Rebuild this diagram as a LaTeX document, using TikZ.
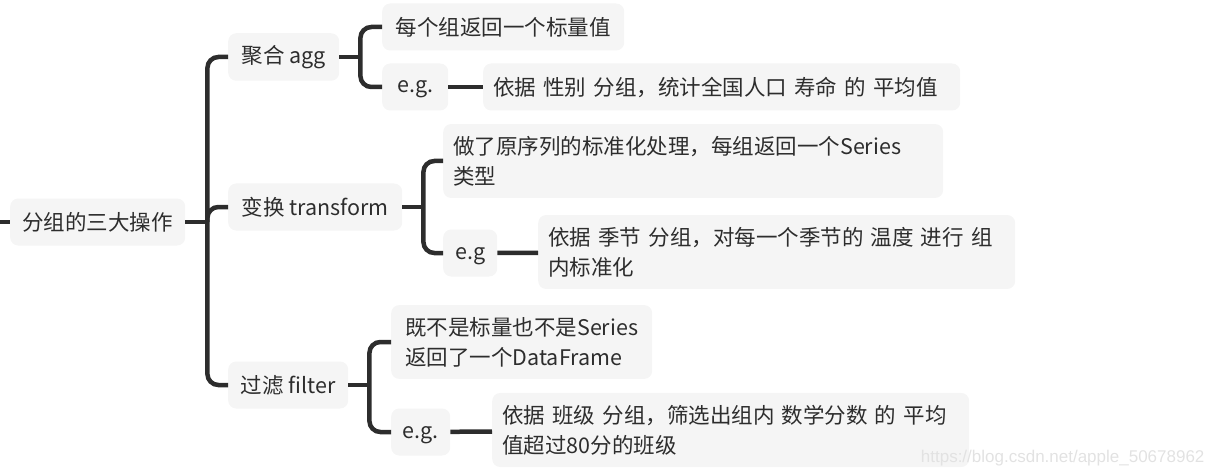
\documentclass[tikz,border=0pt]{standalone}
\usepackage{fontspec}
\setmainfont{Noto Sans CJK SC}
\newfontfamily\markfont{Liberation Sans}
\usetikzlibrary{positioning,calc}
\definecolor{LineGray}{RGB}{45,45,45}
\definecolor{BoxGray}{RGB}{245,245,245}
\definecolor{MarkGray}{RGB}{226,226,226}
\tikzset{>=latex}
\tikzset{
  topic/.style={fill=BoxGray, text=LineGray, rounded corners=8pt, inner xsep=10pt, inner ysep=12pt,
    minimum height=47pt, anchor=west, align=left, font=\fontsize{21.5}{30}\selectfont},
  egbox/.style={topic, text height=17pt, text depth=5pt},
  link/.style={draw=LineGray, line width=4.5pt, rounded corners=11pt},
}

\begin{document}
\begin{tikzpicture}[x=1pt, y=-1pt]
            \useasboundingbox (0,0) rectangle (1216,476);
            % main topics
            \node[topic, minimum width=175pt] (root) at (10,222) {分组的三大操作};
            \node[topic, minimum width=111pt] (agg) at (228,57) {聚合 agg};
            \node[topic, minimum width=174pt] (trans) at (228,207) {变换 transform};
            \node[topic, minimum width=120pt] (filt) at (228,385) {过滤 filter};
            % agg
            \node[topic, minimum width=242pt] (aggval) at (382,27) {每个组返回一个标量值};
            \node[egbox, minimum width=66pt] (aggeg) at (382,87) {e.g.};
            \node[topic, text width=457pt] (aggex) at (483,87) {依据 性别 分组，统计全国人口 寿命 的 平均值};
            % transform
            \node[topic, text width=480pt] (transval) at (443,161) {做了原序列的标准化处理，每组返回一个Series\\类型};
            \node[egbox, minimum width=54pt] (transeg) at (443,253) {e.g};
            \node[topic, text width=457pt] (transex) at (538,252) {依据 季节 分组，对每一个季节的 温度 进行 组\\内标准化};
            % filter
            \node[topic, minimum width=261pt] (filtval) at (391,342) {既不是标量也不是Series\\返回了一个DataFrame};
            \node[egbox, minimum width=59pt] (filteg) at (391,432) {e.g.};
            \node[topic, text width=457pt] (filtex) at (492,430) {依据 班级 分组，筛选出组内 数学分数 的 平均\\值超过80分的班级};
            \node[text=MarkGray, anchor=east, font=\markfont\fontsize{17}{17}\selectfont] (mark) at (1208,458) {https://blog.csdn.net/apple\_50678962};
            % branches
            \coordinate (inlet) at (0,222);
            \coordinate (rootj) at ($(root.east)+(22,0)$);
            \coordinate (aggj) at ($(agg.east)+(21,0)$);
            \coordinate (transj) at ($(trans.east)+(21,0)$);
            \coordinate (filtj) at ($(filt.east)+(21,0)$);
            \draw[link] (inlet) -- (root.west);
            \draw[link] (root.east) -- (rootj);
            \draw[link] (agg.west) -| (rootj) |- (filt.west);
            \draw[link] (trans.west) -| (rootj);
            \foreach \p/\a/\b in {agg/aggval/aggeg, trans/transval/transeg, filt/filtval/filteg}{
                \draw[link] (\p.east) -- (\p j);
                \draw[link] (\a.west) -| (\p j) |- (\b.west);
            }
            \foreach \a/\b in {aggeg/aggex, transeg/transex, filteg/filtex}{
                \draw[link] (\a) -- (\b);
            }
        \end{tikzpicture}
\end{document}
